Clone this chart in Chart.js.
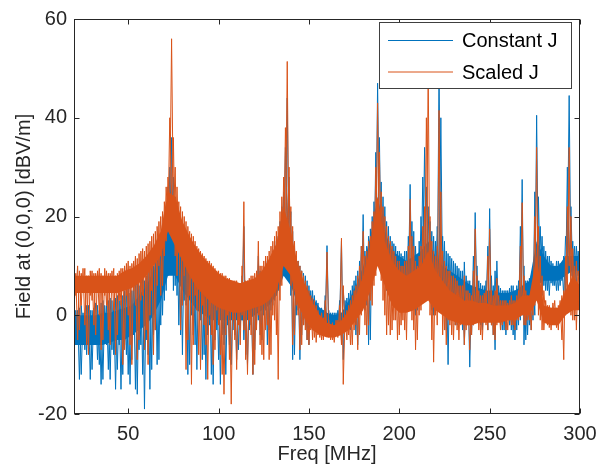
<!DOCTYPE html>
<html>
<head>
<meta charset="utf-8">
<script src="https://cdn.jsdelivr.net/npm/chart.js@4.4.1/dist/chart.umd.min.js"></script>
<style>
  html, body { margin: 0; padding: 0; background: #fff; }
  canvas { display: block; }
</style>
</head>
<body>
<canvas id="chart" width="607" height="468"></canvas>
<script>
// Frequency grid (MHz). Spike set A: hi at 20,22,...,300, lo at 21,23,...,299.
// Spike set B: lo at 20,22,...,300, hi at 21,23,...,299.
// Dense core band sampled every 4 MHz from 20 to 300.
const freqStart = 20;
const spikeStep = 2;
const coreStep = 4;

const xTicks = [50, 100, 150, 200, 250, 300];
const yTicks = [-20, 0, 20, 40, 60];

// ---- Constant J (blue) ----
const constHi = [
  2, 1, 2, 0.5, 2, 1, 2.5, 1, 3, 2,
  3.5, 2, 4, 3, 5, 6, 5, 8, 6, 9,
  8, 12, 10, 14, 15, 18, 26, 36, 24, 19,
  18, 15, 14, 13, 12, 11, 10, 9, 9, 8,
  7.5, 7, 6.5, 6, 6, 5.5, 5, 18, 5, 6,
  7, 12, 8, 10, 11, 13, 15, 19, 25, 44,
  21, 14, 11, 9, 8, 6, 5, 3, 1.5, 1,
  14.1, 0.5, 0.5, 1, 15, 3, 4.5, 6, 8, 11,
  20.4, 14, 17.5, 23, 47, 27, 22, 18, 15, 14,
  13, 12, 13, 26.5, 17, 12, 20, 34, 22, 17,
  15, 50, 16, 13, 12, 11, 10, 9, 10.8, 7,
  6, 20.8, 7, 6, 7, 21.6, 6, 11, 5.5, 5,
  5, 6, 5, 7, 27.5, 7, 7.5, 8, 40.5, 18,
  14, 12, 11, 10, 11, 10, 16, 44.5, 15, 14,
  14
];
const constLo = [
  -6, -13, -3, -8, -13, -4, -9, -14, -5, -11,
  -7, -15, -6, -12, -8, -14, -4, -16, -6, -19,
  -8, -11, -3, -9, 0, 5, 10, 5, 4, -4,
  3, -12, 0, -6, 1, -9, -13, -2, -14, -3,
  -14, -6, -2, -10, -4, -7, -1, -8, -3, -12,
  -2, -4, 0, -6, 1, 3, 5, 10, 14, 8,
  -9, 0, -9, -1, -5, -2, -3, -2.5, -3, -2,
  -2.5, -2.5, -3, -1.5, -9, -2, -3, -1, -6, 2,
  1, -6, 6, 12, 16, 8, 5, 3, 6, 2,
  1, 2, 5, 3, 0, 2, 8, 6, 3, 0,
  2, 6, 1, -10, 0, -2, 1, -3, -1, -10.5,
  -2, 1, -2, 0, -3, -2, -7, -1, -3, -4,
  -2, -4, -3, -1, -6, -4, -3, 0, 6, 4,
  5, 4, 6, 5, 6, 4, 12, 8, 5, 8
];
const constHiB = [
  1, 1.5, 0.5, 2, 1, 1.5, 2, 2.5, 2, 3,
  3, 3.5, 3, 4, 5.5, 4.5, 7, 6.5, 8.5, 7,
  11, 13, 12, 16, 17, 22, 30, 28, 20, 18,
  16, 15, 13.5, 12.5, 11.5, 10.5, 9.5, 9, 8.5, 8,
  7, 7, 6.5, 6, 6, 5, 8, 5.5, 6, 6.5,
  8, 9, 9.5, 11, 12, 14, 16, 22, 34, 28,
  17, 12, 10, 8.5, 7, 5, 4, 2.5, 1.5, 4,
  1, 0.5, 0.5, 3, 5, 3.5, 5, 7, 9, 14,
  13, 16, 20, 33, 36, 24, 19, 16, 14.5, 13,
  12.5, 13, 16, 19, 14, 15, 28, 26, 19, 16,
  18, 40, 15, 12.5, 11.5, 10.5, 9.5, 9, 8, 7,
  12, 10, 6.5, 6, 14, 8, 9, 6, 5, 5,
  5.5, 6, 6, 18, 10, 7, 8, 25, 24, 16,
  13, 12, 10.5, 11, 10.5, 12, 30, 22, 14, 13
];
const constLoB = [
  -9, -4, -12, -7, -5, -11, -6, -10, -13, -6,
  -13, -8, -11, -15, -6, -12, -9, -15, -7, -12,
  -5, -15, -4, -10, -2, 3, 8, 14, 6, -2,
  -8, 2, -10, -4, -11, -1, -8, -4, -12, -5,
  -9, -4, -12, -6, -3, -9, -3, -5, -10, -2,
  -7, -1, -5, 1, -3, 2, 4, 6, 12, 18,
  4, -8, 1, -4, -2, -6, -3, -2, -3.5, -2.5,
  -2, -3, -2, -3, -5, -1, -3, 0, -4, 1,
  4, 2, -5, 8, 14, 10, 7, 5, 4, 6,
  3, 5, 2, 6, 4, 1, 5, 10, 4, 1,
  4, 8, 3, -3, 2, 0, -2, 1, -6, 0,
  -4, 2, -1, -3, 1, 0, -4, -1, -2, -3,
  -1, -3, -5, -2, 0, -5, -2, -1, 4, 7,
  6, 5, 6.5, 6, 5, 7, 4, 10, 7, 6,
  8
];
const constCoreTop = [
  0, 0, 0, 0, 0.5, 0.5, 1, 1.5, 2, 4,
  6, 9, 13, 20, 18, 15, 12, 10, 8, 7,
  6, 5, 5, 4.5, 5, 6, 7, 10, 13, 19,
  16, 9, 6, 3.5, 1.5, 0.5, 0, 0.5, 3, 6,
  10, 16, 24, 17, 13, 12, 11, 12, 13, 15,
  12, 10, 9, 8, 7, 6, 5.5, 5, 5, 4.5,
  4.5, 5, 6, 7, 15, 12, 10, 10, 12, 12,
  12
];
const constCoreBottom = [
  -6, -6, -6, -6, -6, -5.5, -5, -5, -4, -3,
  -2, 0, 3, 8, 8, 5, 3, 1, 0, -1,
  -1, -1, -1, -1, -1, 0, 1, 2, 4, 8,
  6, 2, 0, -1, -2, -2.5, -2.5, -2, 0, 2,
  5, 8, 12, 9, 8, 7, 6, 6, 6, 7,
  5, 4, 3, 2, 1, 1, 0.5, 0, 0, 0,
  0, 0, 1, 2, 6, 7, 7, 7, 8, 9,
  9
];

// ---- Scaled J (orange) ----
const scaledHi = [
  9, 10, 8.5, 9.5, 8, 9, 8.5, 9.5, 8, 9,
  8.5, 9.5, 8.5, 9.5, 10, 11, 10.5, 12, 12.5, 13.5,
  14, 15, 16.5, 18, 20, 23, 28, 56, 30, 23,
  21, 19, 17, 16, 14, 13, 12, 11, 10.5, 9.5,
  9, 8.5, 8, 7.5, 7, 7, 6.5, 23, 7, 8,
  8.5, 15, 10, 12, 13, 15, 17, 21, 28, 51.4,
  22, 15, 11, 9, 7, 5, 3.5, 2, 0, -0.5,
  12.8, -2, -2, -1, 15.6, 0, 2, 4, 6, 10,
  17, 13, 16, 21, 43, 25, 20, 16, 14, 12,
  11, 10, 11, 23.5, 14, 10, 14, 22, 50, 15,
  12, 41.5, 13, 10, 9, 8, 7, 6, 8, 5,
  4, 17.5, 5, 4, 5, 17.5, 4, 7.5, 3, 3,
  2.5, 4, 3, 5, 22.8, 5, 4, 6, 34, 12,
  5, 2, 1.5, 3, 2, 4, 12, 34, 13.5, 11,
  8
];
const scaledLo = [
  4, -3, 5, -6, 4, -2, 5, -7, 4, -3,
  5, -8, 3, -10, 4, -6, 5, -9, 3, -7,
  -10, 5, -3, 10, 6, 15, 22, 20, 8, -3,
  8, -5, -14, 4, -8, 2, -6, 0, -10, 1,
  -8, -16, 0, -18, -5, -2, 0, -9, -1, -12,
  -3, -6, -9, -2, -8, -1, -13, 6, 14, 10,
  -6, 2, -7, -2, -5, -3, -4.5, -4, -5, -4,
  -4.5, -5, -4, -3.5, -14, -5, -6, -3, -7, 0,
  -2, -2, 2, 8, 12, 3, -4, -4, -1, -5,
  -2, -3, 1, -1, -7, 0, 3, 5, 0, -9.5,
  -2, 4, -3, -1, -4, -2, -5, -1, -3, -7,
  -2, 0, -4, -1, -3, -2, -5, -1, -2, -3,
  -1, -2, -1, 0, -2, -1, -3, 2, 0, -3,
  -1, -2.5, -1, -2.5, -1, -9, 4, 0, -1, 2
];
const scaledHiB = [
  8.5, 9, 9.5, 8, 9, 8.5, 9, 8.5, 9.5, 8.5,
  9, 8, 9, 9.5, 10.5, 10, 11, 11.5, 13, 13,
  14.5, 16, 17, 19, 21, 26, 40, 36, 26, 22,
  20, 18, 16.5, 15, 13.5, 12.5, 11.5, 11, 10, 9,
  8.5, 8, 7.5, 7, 7, 6.5, 10, 7, 7.5, 8,
  9, 10, 11, 12, 14, 16, 18, 24, 38, 30,
  18, 13, 10, 8, 6, 4, 3, 1, 0.5, 3,
  -1, -1.5, -1, 2, 6, 1, 3, 5, 8, 14,
  12, 15, 19, 30, 33, 22, 18, 15, 13, 11,
  10, 11, 14, 16, 11, 12, 18, 40, 20, 13,
  14, 25, 11, 9, 8, 7.5, 6, 6, 5, 4.5,
  9, 8, 4, 4.5, 12, 5, 5, 4, 3, 3,
  3, 3, 4, 14, 8, 4, 5, 20, 18, 8,
  3, 2, 2.5, 1.5, 3, 5, 22, 20, 10, 9
];
const scaledLoB = [
  1, -5, 2, -2, -8, 3, -4, 0, -5, 2,
  -6, 1, -4, 2, -7, 0, -10, 2, -5, 4,
  -3, 0, -8, 6, 4, 12, 18, 24, 12, 14,
  2, -11, 4, -6, 1, -11, -2, -13, -4, -7,
  -2, -12, -4, -9, -1, -11, -6, -3, -12, -4,
  -10, 0, -8, -3, -9, 0, -4, 3, 12, 16,
  6, -4, 0, -6, -3, -6, -5, -5.5, -4.5, -5,
  -3, -5, -5.5, -4.5, -6, -3, -4, -6, -2, -4,
  3, -4, 3, 6, 14, 7, 0, -2, -3, -1,
  -4, -1, -5, 3, -3, -5, 1, 6, 8, -5,
  0, 6, -4, -6, -2, -5, -3, -2, -6, -2,
  -4, 1, -3, -5, -2, 1, -4, -2, -3, -1,
  -3, -2, -3, -1, 2, -2, -1, 0, 8, -1,
  -3, -2, -3, -1.5, -3, -5, 0, 10, -1, -3,
  0
];
const scaledCoreTop = [
  8, 8, 8, 8, 8, 8, 8, 9, 9.5, 10.5,
  12, 14, 17, 25, 24, 19, 16, 13.5, 11.5, 10,
  8.5, 7.5, 7, 6.5, 7, 7.5, 9, 11.5, 14.5, 22,
  17, 10, 6, 2.5, 0, -1.5, -2, -1, 1, 4,
  8, 14, 24, 15, 11, 9, 8, 9, 10, 13,
  9, 7, 5, 4, 3, 3, 2.5, 2.5, 2, 2,
  2, 2.5, 4, 4, 12, 2, 1.5, 1.5, 5, 8,
  6
];
const scaledCoreBottom = [
  4.5, 4.5, 4.5, 4.5, 4.5, 4.5, 4.5, 5, 5.5, 6.5,
  8, 10, 12, 17, 14, 11, 8, 5.5, 4, 2.5,
  1.5, 1, 0.5, 0.5, 1, 1.5, 2, 3, 5, 10,
  8, 2, -1, -3, -4, -4.5, -4.5, -4, -3, -1,
  1, 5, 10, 6, 2, 0.5, 0.5, 1, 2, 3,
  1, 0, -1, -1.5, -2, -2, -1.5, -1.5, -1.5, -1.5,
  -1, -1, 0, 0, 3, -1.5, -2, -2, 0, 1,
  1
];

// hi/lo alternate one MHz apart; set B starts with a low sample
function zigzag(first, second) {
  const pts = [];
  first.forEach((v, i) => {
    pts.push({ x: freqStart + i * spikeStep, y: v });
    if (i < second.length) pts.push({ x: freqStart + i * spikeStep + 1, y: second[i] });
  });
  return pts;
}
function band(arr) {
  return arr.map((v, i) => ({ x: freqStart + i * coreStep, y: v }));
}

const FONT = 'Liberation Sans, Arial, Helvetica, sans-serif';
const AXIS = '#262626';
const BLUE = '#0072BD';
const ORANGE = '#D95319';
const NONE = 'rgba(0,0,0,0)';

// MATLAB-like box with inward ticks and a boxed legend
const boxPlugin = {
  id: 'box',
  afterDatasetsDraw(chart) {
    const { ctx, chartArea: a, scales } = chart;
    const L = a.left + 0.5, R = a.right - 0.5, T = a.top + 0.5, B = a.bottom - 0.5;
    ctx.save();
    ctx.strokeStyle = AXIS;
    ctx.lineWidth = 1;
    ctx.strokeRect(L, T, R - L, B - T);
    ctx.beginPath();
    xTicks.forEach(v => {
      const px = Math.round(scales.x.getPixelForValue(v)) + 0.5;
      ctx.moveTo(px, B); ctx.lineTo(px, B - 5);
      ctx.moveTo(px, T); ctx.lineTo(px, T + 5);
    });
    yTicks.forEach(v => {
      const py = Math.round(scales.y.getPixelForValue(v)) + 0.5;
      ctx.moveTo(L, py); ctx.lineTo(L + 5, py);
      ctx.moveTo(R, py); ctx.lineTo(R - 5, py);
    });
    ctx.stroke();

    // legend
    ctx.fillStyle = '#fff';
    ctx.fillRect(379.5, 22.5, 192, 66);
    ctx.strokeStyle = '#404040';
    ctx.strokeRect(379.5, 22.5, 192, 66);
    const rows = [40.5, 72];
    chart.data.datasets.slice(0, 2).forEach((ds, i) => {
      const y = rows[i];
      ctx.strokeStyle = ds.borderColor;
      ctx.beginPath();
      ctx.moveTo(388, y); ctx.lineTo(453, y);
      ctx.stroke();
      ctx.fillStyle = '#000';
      ctx.font = '20px ' + FONT;
      ctx.textBaseline = 'middle';
      ctx.textAlign = 'left';
      ctx.fillText(ds.label, 462, y + 1);
    });
    ctx.restore();
  }
};

const lineBase = { borderWidth: 1, pointRadius: 0, tension: 0, fill: false };

new Chart(document.getElementById('chart'), {
  type: 'line',
  data: {
    datasets: [
      { ...lineBase, label: 'Constant J', data: zigzag(constHi, constLo), borderColor: BLUE, order: 6 },
      { ...lineBase, label: 'Scaled J', data: zigzag(scaledHi, scaledLo), borderColor: ORANGE, order: 3 },
      { ...lineBase, label: 'Constant J b', data: zigzag(constLoB, constHiB), borderColor: BLUE, order: 6 },
      { ...lineBase, label: 'Scaled J b', data: zigzag(scaledLoB, scaledHiB), borderColor: ORANGE, order: 3 },
      { ...lineBase, label: 'blue core', data: band(constCoreTop), borderColor: NONE, backgroundColor: BLUE, fill: '+1', order: 7 },
      { ...lineBase, label: 'blue core low', data: band(constCoreBottom), borderColor: NONE, order: 7 },
      { ...lineBase, label: 'orange core', data: band(scaledCoreTop), borderColor: NONE, backgroundColor: ORANGE, fill: '+1', order: 4 },
      { ...lineBase, label: 'orange core low', data: band(scaledCoreBottom), borderColor: NONE, order: 4 }
    ]
  },
  options: {
    responsive: false,
    animation: false,
    devicePixelRatio: 1,
    layout: { padding: { left: 0, top: 14, right: 27, bottom: 0 } },
    plugins: { legend: { display: false }, tooltip: { enabled: false } },
    scales: {
      x: {
        type: 'linear', min: 20, max: 300,
        afterBuildTicks: s => { s.ticks = xTicks.map(v => ({ value: v })); },
        afterFit: s => { s.height = 54; },
        grid: { display: false, drawTicks: false },
        border: { display: false },
        ticks: { color: AXIS, font: { family: FONT, size: 20 }, padding: 8, maxRotation: 0, autoSkip: false },
        title: { display: true, text: 'Freq [MHz]', color: AXIS, font: { family: FONT, size: 20 }, padding: { top: 0, bottom: 2 } }
      },
      y: {
        type: 'linear', min: -20, max: 60,
        afterBuildTicks: s => { s.ticks = yTicks.map(v => ({ value: v })); },
        afterFit: s => { s.width = 74; },
        grid: { display: false, drawTicks: false },
        border: { display: false },
        ticks: { color: AXIS, font: { family: FONT, size: 20 }, padding: 7, autoSkip: false },
        title: { display: true, text: 'Field at (0,0,0) [dBV/m]', color: AXIS, font: { family: FONT, size: 20 }, padding: { top: 12, bottom: 0 } }
      }
    }
  },
  plugins: [boxPlugin]
});
</script>
</body>
</html>
